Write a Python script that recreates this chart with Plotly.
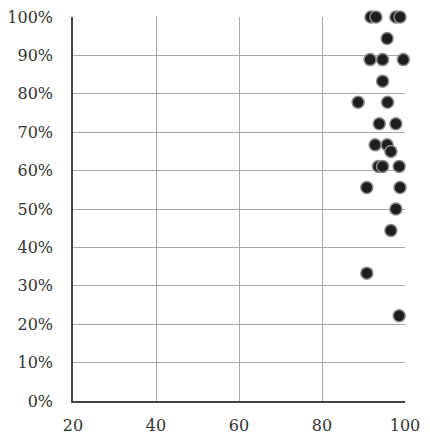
import plotly.graph_objects as go

x_vals = [91.8, 93.0, 97.8, 98.8,
          95.7,
          91.6, 94.6, 99.6,
          94.6,
          88.7, 95.8,
          93.8, 97.8,
          92.8, 95.7, 96.6,
          93.6, 94.6, 98.6,
          90.8, 98.8,
          97.8,
          96.6,
          90.8,
          98.6]
y_vals = [1.0, 1.0, 1.0, 1.0,
          0.944,
          0.889, 0.889, 0.889,
          0.833,
          0.778, 0.778,
          0.722, 0.722,
          0.667, 0.667, 0.65,
          0.611, 0.611, 0.611,
          0.556, 0.556,
          0.50,
          0.444,
          0.333,
          0.222]

x_ticks = [20, 40, 60, 80, 100]
y_ticks = [i / 10 for i in range(11)]
y_tick_labels = [f"{i*10}%" for i in range(11)]

fig = go.Figure(go.Scatter(
    x=x_vals, y=y_vals, mode="markers",
    marker=dict(size=12, color="#1e1e1e", line=dict(color="#8a8a8a", width=1.5)),
    cliponaxis=False,
))

font = dict(family="DejaVu Serif", size=16, color="#333")
fig.update_layout(
    width=422, height=426,
    margin=dict(l=65, r=25, t=9, b=33, autoexpand=False),
    paper_bgcolor="white", plot_bgcolor="white",
    showlegend=False,
    font=font,
)
fig.update_xaxes(
    range=[20, 100], tickvals=x_ticks, ticktext=[str(v) for v in x_ticks],
    showgrid=True, gridcolor="#a8a8a8", gridwidth=1,
    showline=True, linecolor="#444", linewidth=1.5,
    ticks="outside", ticklen=9, tickcolor="rgba(0,0,0,0)",
    zeroline=False, tickfont=font, automargin=False,
    ticklabeloverflow="allow",
)
fig.update_yaxes(
    range=[0, 1], tickvals=y_ticks, ticktext=y_tick_labels,
    showgrid=True, gridcolor="#a8a8a8", gridwidth=1,
    showline=True, linecolor="#444", linewidth=1.5,
    ticks="outside", ticklen=15, tickcolor="rgba(0,0,0,0)",
    zeroline=False, tickfont=font, automargin=False,
    ticklabeloverflow="allow",
)
fig.write_html("out.html")
